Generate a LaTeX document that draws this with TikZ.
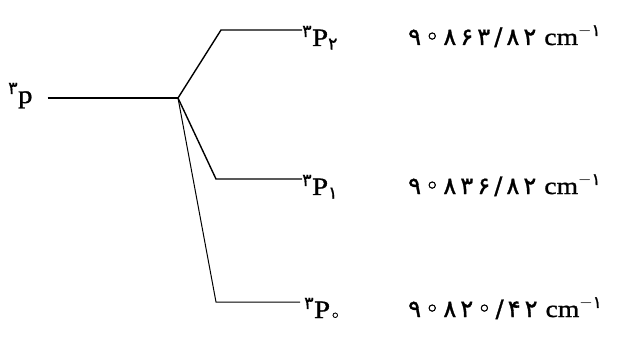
\documentclass[tikz,border=0pt]{standalone}
\usepackage{fontspec}
\setmainfont[FakeStretch=1.15,FakeBold=1.2]{Liberation Serif}
\newfontfamily\fa[LetterSpace=17,FakeBold=1.3]{DejaVu Sans}
\newfontfamily\fasup[FakeBold=1]{DejaVu Sans}
\begin{document}
\begin{tikzpicture}[x=1pt,y=-1pt,
  level/.style={line width=1.4pt},
  fine level/.style={line width=1pt},
  term/.style={anchor=base west, inner sep=0pt, font=\fontsize{25}{28}\selectfont},
  energy/.style={anchor=base west, inner sep=0pt, font=\fontsize{24}{28}\selectfont}]
\useasboundingbox (0,0) rectangle (618,339);

% split point of the 3p level and the corners of the three sublevels
\coordinate (split) at (178,98);
\coordinate (k2) at (221,30);
\coordinate (k1) at (216,179);
\coordinate (k0) at (216,302);

% term labels (hanging just below their level lines)
\node[term] (p)  at (8,103)   {\textsuperscript{\fasup ۳}p};
\node[term] (p2) at (302,46) {\textsuperscript{\fasup ۳}P\textsubscript{\fasup ۲}};
\node[term] (p1) at (302,195) {\textsuperscript{\fasup ۳}P\textsubscript{\fasup ۱}};
\node[term] (p0) at (304,318) {\textsuperscript{\fasup ۳}P\textsubscript{\fasup ◦}};

% energies
\node[energy] (e2) at (408,45)  {{\fa ۹◦۸۶۳/۸۲}\hspace{8pt}cm\textsuperscript{$-$\fasup ۱}};
\node[energy] (e1) at (408,194) {{\fa ۹◦۸۳۶/۸۲}\hspace{8pt}cm\textsuperscript{$-$\fasup ۱}};
\node[energy] (e0) at (408,317) {{\fa ۹◦۸۲◦/۴۲}\hspace{8pt}cm\textsuperscript{$-$\fasup ۱}};

% level lines
\draw[level] ([xshift=15pt]p.base east |- split) -- (split);
\draw[level] (split) -- (k2) -- (k2 -| p2.west);
\draw[level] (split) -- (k1) -- (k1 -| p1.west);
\draw[fine level] (split) -- (k0) -- ([xshift=-4pt]k0 -| p0.west);
\end{tikzpicture}
\end{document}
